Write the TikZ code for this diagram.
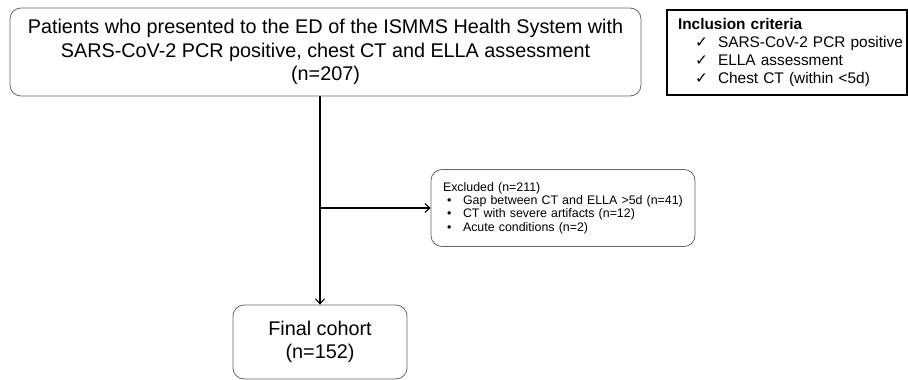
\documentclass[tikz,border=0pt]{standalone}
\usepackage{fontspec}
\setmainfont{Liberation Sans}
\newfontfamily\checkfont{DejaVu Sans}
\usetikzlibrary{arrows.meta,positioning,calc}

\begin{document}
\begin{tikzpicture}[
      x=1pt,
      y=-1pt,
      flowbox/.style={
        draw=black!60,
        line width=0.8pt,
        rounded corners=11pt,
        align=center
      },
      bigtext/.style={
        font=\fontsize{19.8}{23.5}\selectfont
      },
      exclbox/.style={
        flowbox,
        align=left,
        inner xsep=12pt,
        font=\fontsize{12.4}{13.2}\selectfont
      },
      critbox/.style={
        draw=black,
        line width=1.3pt,
        align=left,
        inner xsep=4pt,
        font=\fontsize{15.4}{18}\selectfont
      },
      flow/.style={line width=1.1pt},
      flowarrow/.style={flow, -{Straight Barb[length=5pt,width=9pt]}}
    ]

    % Canvas
    \useasboundingbox (0,0) rectangle (908,380);

    % Boxes
    \node[flowbox, bigtext, minimum width=631pt, minimum height=88pt]
      (start) at (325.5,52)
      {Patients who presented to the ED of the ISMMS Health System with\\
       SARS-CoV-2 PCR positive, chest CT and ELLA assessment\\
       (n=207)};

    \node[flowbox, bigtext, minimum width=174pt, minimum height=74pt]
      (final) at (320,342) {Final cohort\\(n=152)};

    \node[exclbox, text width=240pt, minimum height=77pt]
      (excl) at (563,208)
      {Excluded (n=211)\\
       \makebox[20pt][l]{\hspace{4pt}\textbullet}Gap between CT and ELLA >5d (n=41)\\
       \makebox[20pt][l]{\hspace{4pt}\textbullet}CT with severe artifacts (n=12)\\
       \makebox[20pt][l]{\hspace{4pt}\textbullet}Acute conditions (n=2)};

    \node[critbox, text width=232pt, minimum height=85pt]
      (crit) at (787,52.5)
      {\hspace*{7pt}\textbf{Inclusion criteria}\\
       \hspace*{7pt}\makebox[40pt][l]{\hspace{17pt}{\checkfont ✓}}SARS-CoV-2 PCR positive\\
       \hspace*{7pt}\makebox[40pt][l]{\hspace{17pt}{\checkfont ✓}}ELLA assessment\\
       \hspace*{7pt}\makebox[40pt][l]{\hspace{17pt}{\checkfont ✓}}Chest CT (within <5d)};

    % Connectors
    \coordinate (split) at (excl.west -| final.north);
    \draw[flowarrow] (start.south -| final.north) -- (final.north);
    \draw[flowarrow] (split) -- (excl.west);

    \end{tikzpicture}
\end{document}
